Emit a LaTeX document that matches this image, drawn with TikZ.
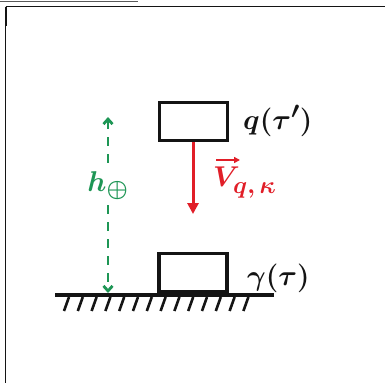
\documentclass[tikz,border=0pt]{standalone}
\usetikzlibrary{arrows.meta}
\definecolor{pen}{RGB}{20,20,20}
\definecolor{redpen}{RGB}{225,30,40}
\definecolor{greenpen}{RGB}{30,150,85}
\begin{document}
\begin{tikzpicture}[x=1pt,y=-1pt,
  boxstyle/.style={draw=pen,line width=3.4pt,minimum width=68pt,minimum height=38pt,inner sep=0pt},
  bigtext/.style={font=\Huge\boldmath,scale=1.15,transform shape,inner sep=0pt},
  lbl/.style={bigtext,text=pen},
  hatch/.style={draw=pen,line width=2.6pt},
  vel/.style={draw=redpen,line width=3pt,-{Triangle[length=11pt,width=11pt]}},
  smallarrow/.style={draw=redpen,line width=2pt,-{Triangle[length=6pt,width=6pt]}},
  height/.style={draw=greenpen,line width=2.8pt,dash pattern=on 9pt off 8pt,{Straight Barb[length=5pt,width=9pt]}-{Straight Barb[length=5pt,width=9pt]}}]
\useasboundingbox (0,0) rectangle (385,383);
\fill[white] (0,0) rectangle (385,383);
% frame
\draw[gray!70!black,line width=1.2pt] (0,1.5) -- (138,1.5);
\draw[pen,line width=1pt] (5.5,6.5) -- (385,6.5);
\draw[pen,line width=1pt] (5.5,6.5) -- (5.5,383);
\draw[pen,line width=2pt] (6,6.5) -- (6,26);
% boxes
\node[boxstyle] (top) at (193.5,121.5) {};
\node[boxstyle] (bot) at (193,272.5) {};
\node[lbl,anchor=west] (ql) at (243,121) {$q(\tau')$};
\node[lbl,anchor=west] (gl) at (247,278) {$\gamma(\tau)$};
% ground
\coordinate (g1) at (55,295);
\coordinate (g2) at (274,295);
\draw[pen,line width=3.4pt] (g1) -- (g2);
\foreach \i in {0,...,13}{
  \draw[hatch] (69+13.8*\i,297) -- (64+13.8*\i,311);
}
% velocity arrow
\coordinate (vb) at (193,214);
\draw[vel] (top.south -| vb) -- (vb);
\node[bigtext,text=redpen,anchor=west] (vV) at (213,177) {$V$};
\node[bigtext,text=redpen,anchor=west,scale=0.85] (vs) at (233,190) {$q,\kappa$};
\coordinate (vaL) at (216,160);
\coordinate (vaR) at (240,160);
\draw[smallarrow] (vaL) -- (vaR);
% height arrow
\coordinate (ha) at (108,117);
\coordinate (hb) at (108,293);
\draw[height] (ha) -- (hb);
\node[bigtext,text=greenpen,fill=white,inner sep=1pt] (hl) at (108,186) {$h_{\oplus}$};
\end{tikzpicture}
\end{document}
